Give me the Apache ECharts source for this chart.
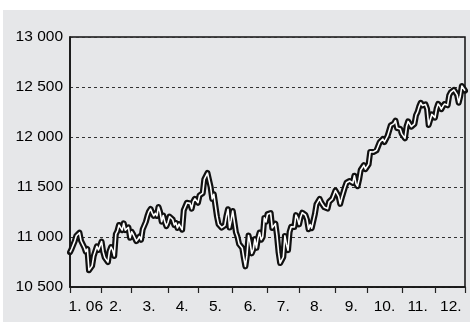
<!DOCTYPE html>
<html>
<head>
<meta charset="utf-8">
<script src="https://cdn.jsdelivr.net/npm/echarts@6/dist/echarts.min.js"></script>
<style>
html,body{margin:0;padding:0;background:#fff;}
#c{width:473px;height:322px;}
</style>
</head>
<body>
<div id="c"></div>
<script>
// Daily closes, one array per month (trading days)
const jan = [10847,10880,10882,10959,11012,11011,11043,10962,10960,10897,10854,10880,10667,10689,10712,10809,10809,10907,10870,10865];
const feb = [10954,10851,10794,10798,10749,10858,10900,10870,10810,11029,11059,11120,11115,11069,11137,11069,11061,11096,10993];
const mar = [11053,11025,11022,10959,10980,11005,10972,11076,11076,11151,11209,11254,11280,11241,11211,11237,11211,11300,11250,11154,11215,11151,11109];
const apr = [11145,11204,11217,11175,11121,11142,11090,11129,11137,11073,11268,11278,11342,11347,11336,11283,11354,11382,11367];
const may = [11343,11416,11400,11438,11577,11585,11640,11642,11500,11381,11428,11419,11205,11128,11144,11094,11076,11117,11211,11278,11094,11168];
const jun = [11260,11248,11048,11002,10931,10939,10891,10792,10706,10816,11015,10942,10836,10874,10979,10891,10989,11045,10973,11002,11191,11150];
const jul = [11228,11225,11239,11091,11103,11134,11013,10846,10739,10747,10800,11011,10928,10868,11052,11103,11102,11100,11219,11186];
const aug = [11126,11200,11243,11240,11220,11174,11077,11125,11088,11098,11230,11327,11334,11381,11345,11346,11297,11302,11284,11352,11370,11382,11381];
const sep = [11464,11469,11407,11331,11392,11396,11498,11543,11528,11560,11555,11540,11613,11533,11508,11576,11670,11689,11718,11679];
const oct = [11670,11727,11851,11866,11850,11857,11867,11852,11947,11960,11980,11950,11969,12011,12002,12116,12127,12134,12163,12090,12086,12081];
const nov = [12031,12019,11986,12105,12156,12176,12103,12108,12131,12218,12251,12305,12342,12316,12321,12326,12280,12121,12136,12226,12221];
const dec = [12194,12283,12331,12310,12278,12307,12329,12315,12317,12416,12446,12441,12471,12463,12421,12343,12407,12510,12501,12463];

const monthLabels = ['1. 06','2.','3.','4.','5.','6.','7.','8.','9.','10.','11.','12.'];
const yTicks = [10500, 11000, 11500, 12000, 12500, 13000];

const months = [jan,feb,mar,apr,may,jun,jul,aug,sep,oct,nov,dec];
const values = [];
const categories = [];
const tickIdx = new Set();
const labelAt = {};
months.forEach((m, mi) => {
  const start = values.length;
  tickIdx.add(start);
  labelAt[start + Math.floor(m.length / 2)] = monthLabels[mi];
  m.forEach((v, di) => { values.push(v); categories.push((mi + 1) + '-' + (di + 1)); });
});
tickIdx.add(values.length - 1);

const FONT = '"Liberation Sans", Arial, Helvetica, sans-serif';
const chart = echarts.init(document.getElementById('c'), null, {renderer: 'canvas'});
chart.setOption({
  animation: false,
  backgroundColor: '#ffffff',
  graphic: [{
    type: 'rect', z: -10, silent: true,
    shape: {x: 3, y: 10, width: 467, height: 312},
    style: {fill: '#e6e7e9'}
  }],
  grid: {
    left: 70, right: 8, top: 37, bottom: 35,
    show: true, borderColor: '#111', borderWidth: 1.5,
    backgroundColor: 'transparent'
  },
  xAxis: {
    type: 'category',
    data: categories,
    boundaryGap: false,
    axisLine: {show: true, lineStyle: {color: '#111', width: 1.5}},
    axisTick: {
      show: true, length: 6, inside: false,
      interval: (i) => tickIdx.has(i),
      lineStyle: {color: '#222', width: 1.2}
    },
    axisLabel: {
      interval: (i) => labelAt[i] !== undefined,
      formatter: (v, i) => labelAt[i] || '',
      margin: 12, fontSize: 15.5, color: '#000', fontFamily: FONT
    },
    splitLine: {show: false}
  },
  yAxis: {
    type: 'value',
    min: yTicks[0], max: yTicks[yTicks.length - 1], interval: 500,
    axisLine: {show: true, lineStyle: {color: '#111', width: 1.5}},
    axisTick: {show: false},
    axisLabel: {
      margin: 7, fontSize: 15.5, color: '#000', fontFamily: FONT,
      formatter: (v) => String(v).replace(/\B(?=(\d{3})+(?!\d))/g, ' ')
    },
    splitLine: {show: true, lineStyle: {color: '#333', width: 1, type: [3, 3]}}
  },
  series: [
    {
      type: 'line', data: values, symbol: 'none', silent: true, z: 2,
      lineStyle: {color: '#111', width: 6, join: 'round', cap: 'round'}
    },
    {
      type: 'line', data: values, symbol: 'none', silent: true, z: 3,
      lineStyle: {color: '#ffffff', width: 1.6, join: 'round'}
    }
  ]
});
</script>
</body>
</html>
